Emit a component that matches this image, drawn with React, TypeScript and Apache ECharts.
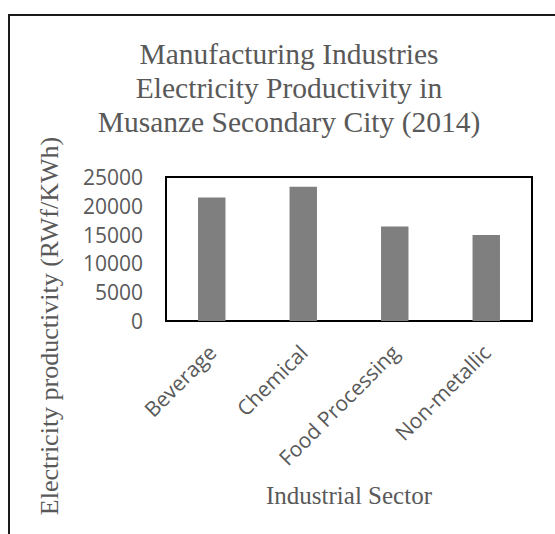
import React, { useEffect, useRef } from "react";
import * as echarts from "echarts";

const titleLines = [
  "Manufacturing Industries",
  "Electricity Productivity in",
  "Musanze Secondary City (2014)",
];
const categories = ["Beverage", "Chemical", "Food Processing", "Non-metallic"];
const productivity = [21450, 23300, 16400, 14950];
const yAxisTitle = "Electricity productivity (RWf/KWh)";
const xAxisTitle = "Industrial Sector";

const SERIF = "'Liberation Serif', 'Times New Roman', serif";
const SANS = "'Open Sans', 'Noto Sans', sans-serif";
const GREY = "#595959";

export default function App() {
  const ref = useRef<HTMLDivElement>(null);
  useEffect(() => {
    if (!ref.current) return;
    const chart = echarts.init(ref.current, undefined, { renderer: "svg" });
    chart.setOption({
      animation: false,
      backgroundColor: "#ffffff",
      title: {
        text: titleLines.join("\n"),
        left: 284,
        top: 32,
        textAlign: "center",
        textStyle: {
          fontFamily: SERIF,
          fontSize: 29.5,
          fontWeight: "normal",
          color: GREY,
          lineHeight: 34,
        },
      },
      grid: {
        left: 166,
        top: 177,
        width: 366,
        height: 144,
        show: true,
        borderColor: "#000000",
        borderWidth: 2,
        containLabel: false,
      },
      xAxis: {
        type: "category",
        data: categories,
        name: xAxisTitle,
        nameLocation: "middle",
        nameGap: 162,
        nameTextStyle: { fontFamily: SERIF, fontSize: 25, color: GREY },
        axisLine: { show: true, lineStyle: { color: "#000000", width: 2 } },
        axisTick: { show: false },
        axisLabel: {
          rotate: 45,
          margin: 13,
          fontFamily: SANS,
          fontSize: 21,
          color: GREY,
          interval: 0,
          verticalAlign: "top",
          padding: [0, 10, 0, 0],
        },
      },
      yAxis: {
        type: "value",
        min: 0,
        max: 25000,
        interval: 5000,
        axisLine: { show: false },
        axisTick: { show: false },
        splitLine: { show: false },
        axisLabel: {
          margin: 23,
          fontFamily: SANS,
          fontSize: 21,
          color: GREY,
          formatter: (v: number) => String(v),
        },
      },
      graphic: [
        {
          type: "rect",
          shape: { x: 9, y: 15, width: 700, height: 700 },
          style: { fill: "none", stroke: "#1a1a1a", lineWidth: 2 },
          silent: true,
          z: -1,
        },
        {
          type: "text",
          x: 49,
          y: 326,
          rotation: Math.PI / 2,
          style: {
            text: yAxisTitle,
            fontFamily: SERIF,
            fontSize: 26,
            fill: GREY,
            align: "center",
            verticalAlign: "middle",
          },
        },
      ],
      series: [
        {
          type: "bar",
          data: productivity,
          barWidth: "30%",
          itemStyle: { color: "#7f7f7f" },
        },
      ],
    });
    return () => chart.dispose();
  }, []);
  return (
    <div
      ref={ref}
      style={{ position: "absolute", left: 0, top: 0, width: 555, height: 534 }}
    />
  );
}
